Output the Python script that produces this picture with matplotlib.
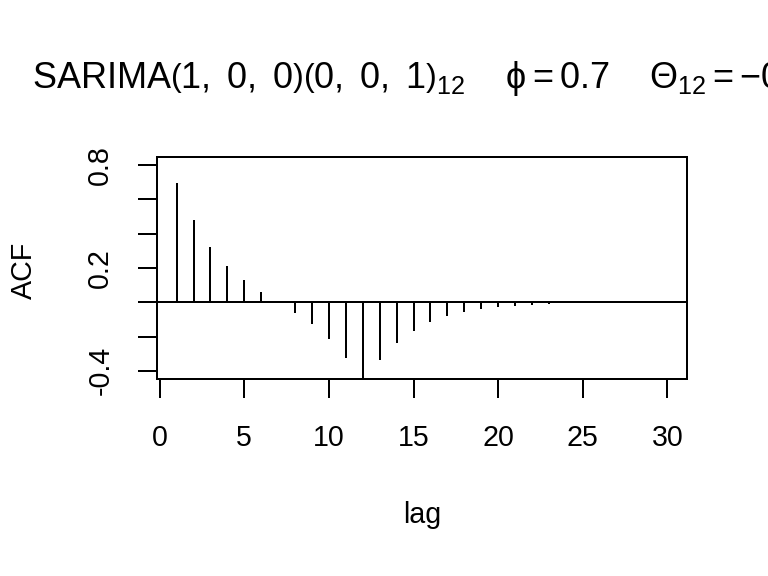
import matplotlib
matplotlib.use("Agg")
import matplotlib.pyplot as plt
import numpy as np

plt.rcParams['font.family'] = ['Liberation Sans', 'DejaVu Sans']
plt.rcParams['mathtext.fontset'] = 'custom'
plt.rcParams['mathtext.rm'] = 'Liberation Sans'
plt.rcParams['mathtext.it'] = 'Liberation Sans:italic'
plt.rcParams['mathtext.sf'] = 'Liberation Sans'

# theoretical ACF, lags 1..30
lags = list(range(1, 31))
acf = [0.695, 0.479, 0.325, 0.213, 0.128, 0.060, 0.000, -0.061, -0.129, -0.214,
       -0.326, -0.481, -0.336, -0.236, -0.165, -0.115, -0.081, -0.057, -0.040, -0.028,
       -0.019, -0.014, -0.010, -0.007, -0.005, -0.003, -0.002, -0.002, -0.001, -0.001]
xticks = [0, 5, 10, 15, 20, 25, 30]
yticks = [-0.4, -0.2, 0.0, 0.2, 0.4, 0.6, 0.8]
ytick_labels = ['-0.4', '', '', '0.2', '', '', '0.8']
title = (r"SARIMA$\left(1,\ 0,\ 0\right)\left(0,\ 0,\ 1\right)_{12}\quad\ "
         r"\mathrm{\phi} = 0.7\quad\ \mathrm{\Theta}_{12} = -0.8$")

fig = plt.figure(figsize=(8, 6), dpi=96)
ax = fig.add_axes([0.2044, 0.342, 0.6901, 0.3854])

ax.vlines(lags, 0, acf, color='black', lw=1.5)
ax.axhline(0, color='black', lw=1.5)

ax.set_xlim(-0.16, 31.16)
ax.set_ylim(-0.448, 0.848)
ax.set_xticks(xticks)
ax.set_yticks(yticks)
ax.set_yticklabels(ytick_labels, rotation=90, va='center')
ax.tick_params(direction='out', length=14, width=1.5, labelsize=21.5, color='black')
ax.tick_params(axis='x', pad=20)
ax.tick_params(axis='y', pad=18)
for s in ax.spines.values():
    s.set_linewidth(1.5)

fig.text(422 / 768, 1 - 515 / 576, 'lag', ha='center', va='center', fontsize=21.5)
fig.text(24 / 768, 1 - 270 / 576, 'ACF', ha='center', va='center', rotation=90, fontsize=21.5)
fig.text(422 / 768, 1 - 78 / 576, title, ha='center', va='center', fontsize=27)

fig.savefig('out.png', dpi=96)
